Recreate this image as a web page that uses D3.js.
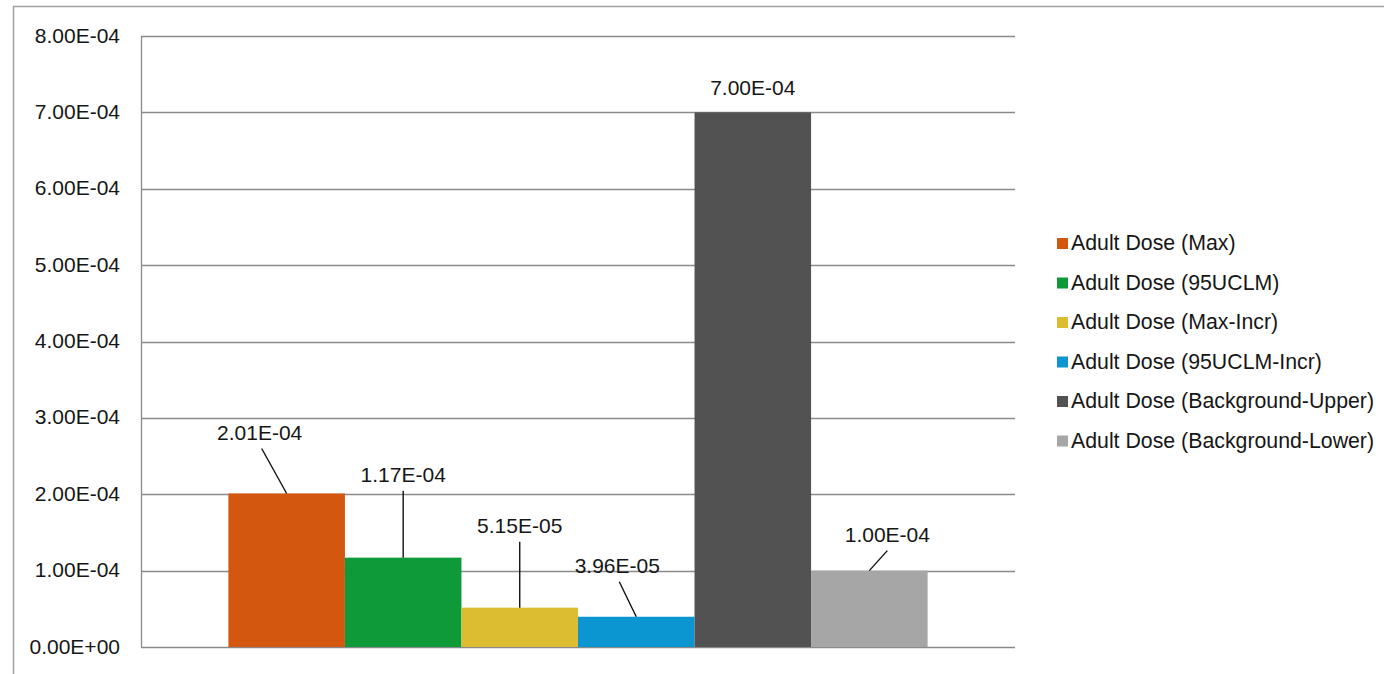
<!DOCTYPE html>
<html>
<head>
<meta charset="utf-8">
<script src="https://cdn.jsdelivr.net/npm/d3@7"></script>
<style>
  body { margin: 0; background: #fff; }
  svg { display: block; font-family: "Liberation Sans", Arial, sans-serif; }
  .tick-label, .data-label, .legend-label { fill: #161616; font-size: 21px; }
  .legend-label { font-size: 21.3px; }
</style>
</head>
<body>
<div id="chart"></div>
<script>
//begin: data
var seriesNames = [
  "Adult Dose (Max)",
  "Adult Dose (95UCLM)",
  "Adult Dose (Max-Incr)",
  "Adult Dose (95UCLM-Incr)",
  "Adult Dose (Background-Upper)",
  "Adult Dose (Background-Lower)"
];
var seriesValues = [2.01e-4, 1.17e-4, 5.15e-5, 3.96e-5, 7.00e-4, 1.00e-4];
var seriesColors = ["#d4570f", "#0e9a38", "#dcbc30", "#0b95d1", "#525252", "#a6a6a6"];
var yTicks = [0, 1e-4, 2e-4, 3e-4, 4e-4, 5e-4, 6e-4, 7e-4, 8e-4];
//end: data

//begin: layout conf.
var width = 1384, height = 674;
var plot = { left: 141, right: 1015, top: 36, bottom: 647 };
// hand-placed data label offsets (relative to bar centre / bar top)
var labelDx = [-27, 0, 0, -19, 0, 18];
var labelDy = [-61, -83, -82, -51, -25, -36];
var legendX = 1057, legendY = 250, legendStep = 39.5;
//end: layout conf.

function sciFormat(v) {
  if (v === 0) return "0.00E+00";
  var e = Math.floor(Math.log10(Math.abs(v)));
  var m = v / Math.pow(10, e);
  if (Math.abs(m) >= 9.995) { m /= 10; e += 1; }
  var sign = e < 0 ? "-" : "+";
  var ea = Math.abs(e);
  return m.toFixed(2) + "E" + sign + (ea < 10 ? "0" + ea : ea);
}

var svg = d3.select("#chart").append("svg")
  .attr("width", width)
  .attr("height", height);

// outer frame (only top and left visible in the crop)
svg.append("rect")
  .attr("x", 13.5).attr("y", 6.5)
  .attr("width", width + 20).attr("height", height + 20)
  .attr("fill", "none")
  .attr("stroke", "#a0a0a0")
  .attr("stroke-width", 1.5);

var y = d3.scaleLinear()
  .domain([0, 8e-4])
  .range([plot.bottom, plot.top]);

var x = d3.scaleBand()
  .domain(seriesNames)
  .range([plot.left, plot.right])
  .paddingInner(0)
  .paddingOuter(0.75);

// gridlines
svg.append("g").selectAll("line")
  .data(yTicks)
  .enter().append("line")
  .attr("x1", plot.left).attr("x2", plot.right)
  .attr("y1", function (d) { return Math.round(y(d)) + 0.5; })
  .attr("y2", function (d) { return Math.round(y(d)) + 0.5; })
  .attr("stroke", "#8a8a8a")
  .attr("stroke-width", 1.3);

// y axis line
svg.append("line")
  .attr("x1", plot.left + 0.5).attr("x2", plot.left + 0.5)
  .attr("y1", plot.top).attr("y2", plot.bottom)
  .attr("stroke", "#8a8a8a")
  .attr("stroke-width", 1.3);

// tick labels
svg.append("g").selectAll("text")
  .data(yTicks)
  .enter().append("text")
  .classed("tick-label", true)
  .attr("x", 120)
  .attr("y", function (d) { return y(d) + 6.5; })
  .attr("text-anchor", "end")
  .text(sciFormat);

// bars
svg.append("g").selectAll("rect")
  .data(seriesNames)
  .enter().append("rect")
  .attr("x", function (d) { return x(d); })
  .attr("y", function (d, i) { return y(seriesValues[i]); })
  .attr("width", x.bandwidth())
  .attr("height", function (d, i) { return y(0) - y(seriesValues[i]); })
  .attr("fill", function (d, i) { return seriesColors[i]; });

// data labels + leader lines
var labels = svg.append("g").selectAll("g")
  .data(seriesNames)
  .enter().append("g");

labels.each(function (d, i) {
  var g = d3.select(this);
  var cx = x(d) + x.bandwidth() / 2;
  var top = y(seriesValues[i]);
  var lx = cx + labelDx[i], ly = top + labelDy[i];
  if (labelDy[i] < -30) {
    g.append("line")
      .attr("x1", lx + (labelDx[i] < 0 ? 2 : 0)).attr("y1", ly + 16)
      .attr("x2", cx).attr("y2", top)
      .attr("stroke", "#111")
      .attr("stroke-width", 1.4);
  }
  g.append("text")
    .classed("data-label", true)
    .attr("x", lx)
    .attr("y", ly + 7.5)
    .attr("text-anchor", "middle")
    .text(sciFormat(seriesValues[i]));
});

// legend
var legend = svg.append("g").selectAll("g")
  .data(seriesNames)
  .enter().append("g")
  .attr("transform", function (d, i) {
    return "translate(" + [legendX, legendY + i * legendStep] + ")";
  });

legend.append("rect")
  .attr("x", 0).attr("y", -12)
  .attr("width", 11).attr("height", 11)
  .attr("fill", function (d, i) { return seriesColors[i]; });

legend.append("text")
  .classed("legend-label", true)
  .attr("x", 14)
  .attr("y", 0)
  .text(function (d) { return d; });
</script>
</body>
</html>
